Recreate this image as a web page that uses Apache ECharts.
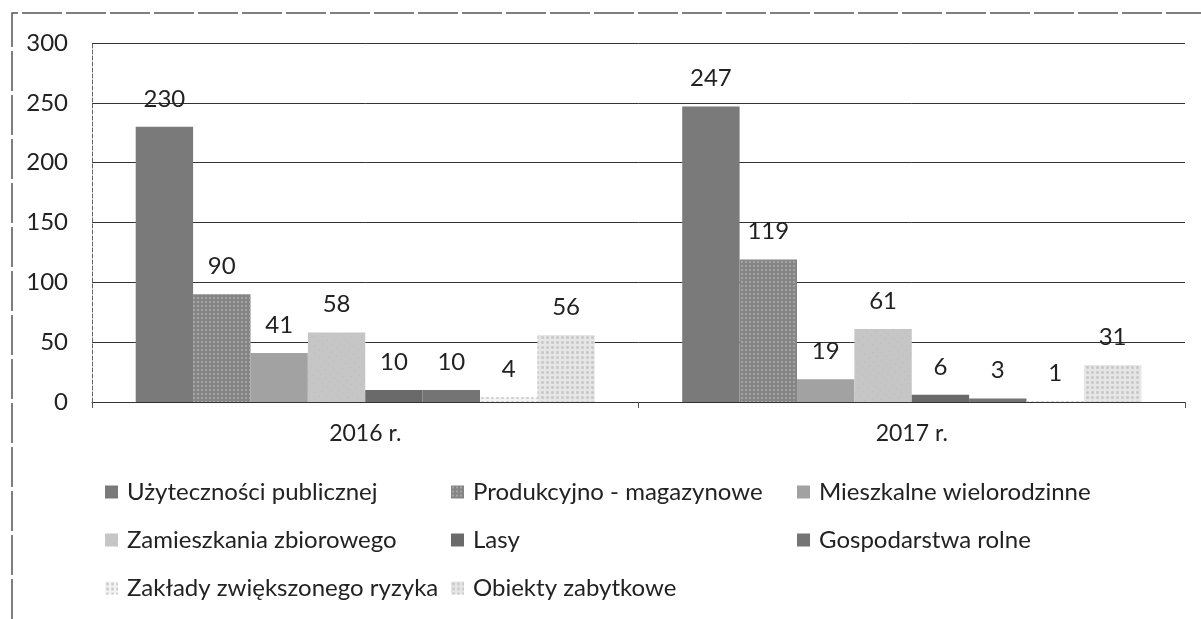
<!DOCTYPE html>
<html>
<head>
<meta charset="utf-8">
<script src="https://cdn.jsdelivr.net/npm/echarts@6/dist/echarts.min.js"></script>
<style>
  html, body { margin: 0; padding: 0; background: #fff; }
  #chart { width: 1201px; height: 619px; }
</style>
</head>
<body>
<div id="chart"></div>
<script>
  // categories and series
  var years = ['2016 r.', '2017 r.'];
  var seriesNames = [
    'Użyteczności publicznej',
    'Produkcyjno - magazynowe',
    'Mieszkalne wielorodzinne',
    'Zamieszkania zbiorowego',
    'Lasy',
    'Gospodarstwa rolne',
    'Zakłady zwiększonego ryzyka',
    'Obiekty zabytkowe'
  ];
  var uzytecznosci = [230, 247];
  var produkcyjno = [90, 119];
  var mieszkalne = [41, 19];
  var zamieszkania = [58, 61];
  var lasy = [10, 6];
  var gospodarstwa = [10, 3];
  var zaklady = [4, 1];
  var zabytkowe = [56, 31];
  var yTicks = [0, 50, 100, 150, 200, 250, 300];

  var values = [uzytecznosci, produkcyjno, mieszkalne, zamieszkania, lasy, gospodarstwa, zaklady, zabytkowe];
  var colors = ['#7a7a7a', '#858585', '#a2a2a2', '#c6c6c6', '#6a6a6a', '#747474', '#f4f4f4', '#e6e6e6'];
  // scanned print textures (dots / hatching)
  var decals = [
    null,
    { symbol: 'rect', symbolSize: 0.5, color: 'rgba(190,190,190,0.55)', dashArrayX: [4, 0], dashArrayY: [4, 0] },
    null,
    { symbol: 'rect', symbolSize: 0.4, color: 'rgba(110,110,110,0.35)', dashArrayX: [[1, 5], [0, 1, 1, 4]], dashArrayY: [3, 3], rotation: 0.7 },
    null,
    null,
    { symbol: 'rect', symbolSize: 0.5, color: 'rgba(150,150,150,0.5)', dashArrayX: [5, 0], dashArrayY: [5, 0] },
    { symbol: 'rect', symbolSize: 0.5, color: 'rgba(170,170,170,0.55)', dashArrayX: [5, 0], dashArrayY: [5, 0] }
  ];
  var font = 'Lato, "Open Sans", sans-serif';

  var chart = echarts.init(document.getElementById('chart'));

  var series = [];
  for (var i = 0; i < seriesNames.length; i++) {
    var s = {
      name: seriesNames[i],
      type: 'bar',
      data: values[i],
      barGap: '0%',
      barCategoryGap: '16%',
      itemStyle: { color: colors[i] },
      label: {
        show: true,
        position: 'top',
        distance: 16,
        color: '#222',
        fontSize: 24,
        fontFamily: font
      }
    };
    if (decals[i]) s.itemStyle.decal = decals[i];
    series.push(s);
  }

  // legend laid out as three columns like the original
  function legendCol(names, left) {
    return {
      orient: 'vertical',
      left: left,
      top: 480,
      padding: 0,
      itemWidth: 13,
      itemHeight: 13,
      itemGap: 24,
      icon: 'rect',
      data: names,
      textStyle: { color: '#222', fontSize: 24, fontFamily: font, padding: [0, 0, 0, 4] }
    };
  }

  chart.setOption({
    animation: false,
    color: colors,
    grid: { left: 92, right: 16, top: 43, bottom: 217 },
    legend: [
      legendCol([seriesNames[0], seriesNames[3], seriesNames[6]], 105),
      legendCol([seriesNames[1], seriesNames[4], seriesNames[7]], 451),
      legendCol([seriesNames[2], seriesNames[5]], 797)
    ],
    xAxis: {
      type: 'category',
      data: years,
      axisLine: { lineStyle: { color: '#333', width: 1 } },
      axisTick: { show: true, length: 6, lineStyle: { color: '#555' } },
      axisLabel: { color: '#222', fontSize: 23, fontFamily: font, margin: 20 }
    },
    yAxis: {
      type: 'value',
      min: 0,
      max: 300,
      interval: 50,
      axisLine: { show: true, lineStyle: { color: '#666', type: 'dashed' } },
      axisTick: { show: false },
      axisLabel: {
        color: '#222', fontSize: 24, fontFamily: font, margin: 24,
        formatter: function (v) { return yTicks.indexOf(v) >= 0 ? String(v) : ''; }
      },
      splitLine: { lineStyle: { color: '#333', width: 1 } }
    },
    graphic: [{
      type: 'polyline',
      shape: { points: [[12, 619], [12, 13], [1201, 13]] },
      style: { stroke: '#555', lineWidth: 1.5, lineDash: [40, 4], fill: null }
    }],
    series: series
  });
</script>
</body>
</html>
